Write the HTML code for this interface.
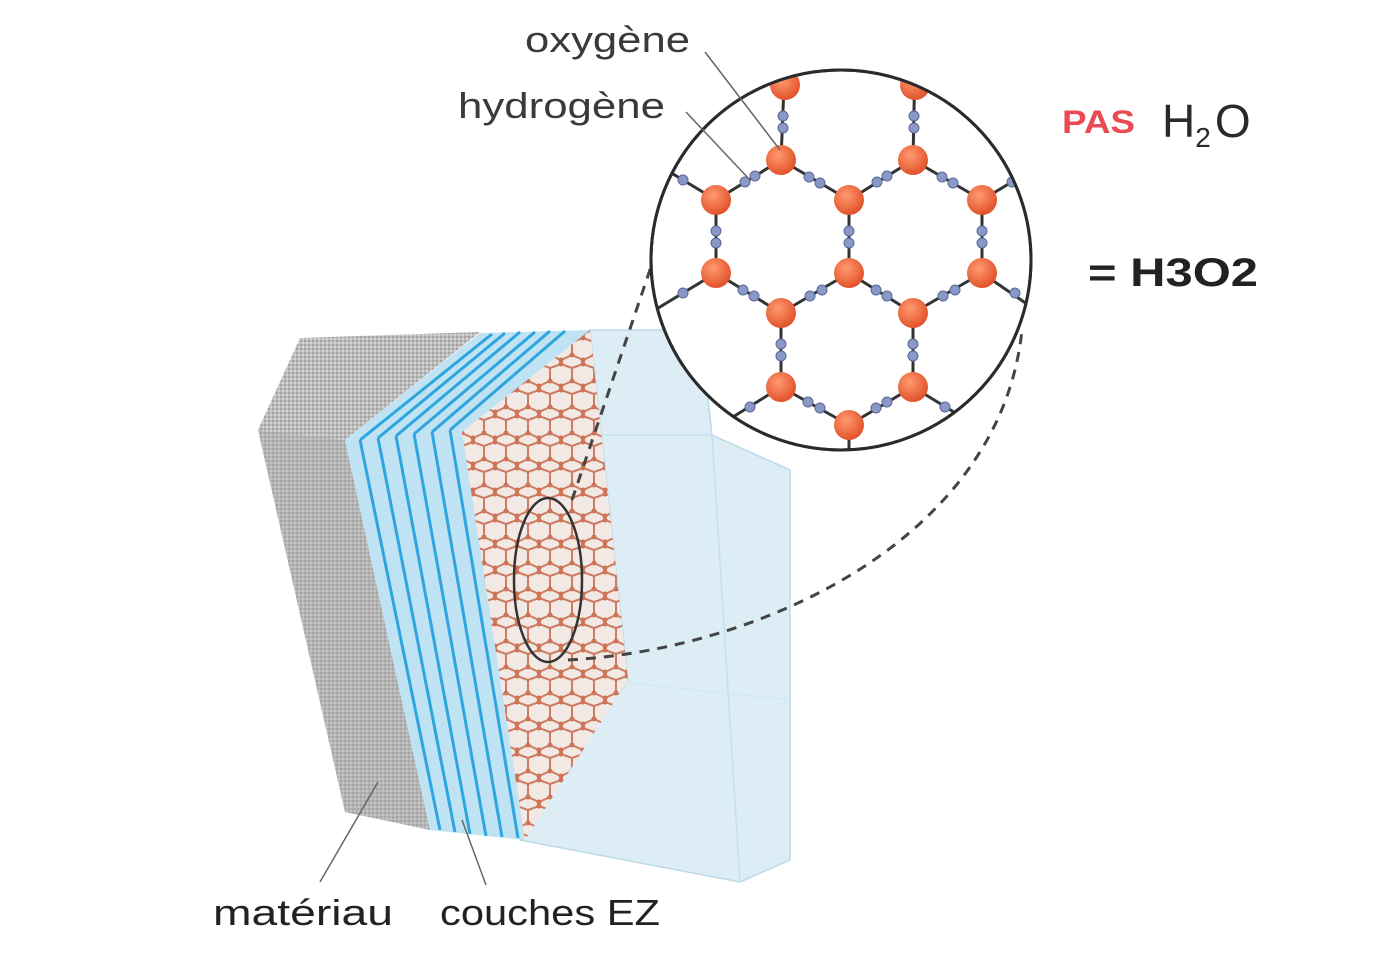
<!DOCTYPE html>
<html><head><meta charset="utf-8"><style>
html,body{margin:0;padding:0;background:#fff;}
svg{display:block;}
text{font-family:"Liberation Sans",sans-serif;}
</style></head><body>
<svg width="1400" height="959" viewBox="0 0 1400 959" xmlns="http://www.w3.org/2000/svg">
<defs>
<pattern id="grey" width="4" height="4" patternUnits="userSpaceOnUse">
<rect width="4" height="4" fill="#bdbdbd"/><rect width="2" height="2" fill="#a3a3a3"/><rect x="2" y="2" width="2" height="2" fill="#d3d3d3"/>
</pattern>
<pattern id="hex" width="22" height="26" patternUnits="userSpaceOnUse">
<rect width="22" height="26" fill="#f1e6e2"/>
<path d="M0 4 L11 0 L22 4 M0 4 L0 17 M22 4 L22 17 M0 17 L11 22 L22 17 M11 22 L11 26" stroke="#c56a4d" stroke-width="2" fill="none"/>
<circle cx="11" cy="0" r="2.5" fill="#c9603e"/><circle cx="0" cy="17" r="2.5" fill="#c9603e"/><circle cx="22" cy="17" r="2.5" fill="#c9603e"/><circle cx="11" cy="22" r="2.5" fill="#c9603e"/><circle cx="11" cy="26" r="2.5" fill="#c9603e"/>
</pattern>
<radialGradient id="og" cx="40%" cy="35%" r="65%"><stop offset="0" stop-color="#ff9a70"/><stop offset="1" stop-color="#e2522a"/></radialGradient>
<clipPath id="cc"><circle cx="841" cy="260" r="190"/></clipPath>
</defs>

<polygon points="590,330 700,330 712,435 790,470 790,860 740,882 520,840 628,680" fill="#dcedf6" stroke="#bcd9e8" stroke-width="1.5"/>
<polyline points="590,330 600,435 712,435" fill="none" stroke="#c8e0ec" stroke-width="1.5"/>
<line x1="712" y1="435" x2="740" y2="882" stroke="#c8e0ec" stroke-width="1.5"/>
<line x1="600" y1="680" x2="790" y2="700" stroke="#d0e6f0" stroke-width="1"/>

<polygon points="258,430 300,338 480,332 345,440 430,830 345,812" fill="url(#grey)"/>
<polygon points="258,430 345,440 430,830 345,812" fill="#a9a9a9" opacity="0.35"/>

<polygon points="345,440 480,333 590,330 628,680 525,840 430,830" fill="#bfe3f3"/>
<g stroke="#2fa5df" stroke-width="3" fill="none">
<path d="M360,440 L492,334 M360,440 L440,830"/>
<path d="M378,438 L505,333 M378,438 L455,832"/>
<path d="M396,436 L520,332 M396,436 L470,834"/>
<path d="M414,434 L535,332 M414,434 L486,836"/>
<path d="M432,432 L550,331 M432,432 L502,837"/>
<path d="M450,430 L565,331 M450,430 L518,838"/>
</g>
<polygon points="462,432 590,330 628,680 525,840" fill="url(#hex)"/>
<polygon points="462,432 590,330 628,680 525,840" fill="#ffffff" opacity="0.12"/>

<ellipse cx="548" cy="580" rx="34" ry="82" fill="none" stroke="#333" stroke-width="2.5"/>
<path d="M572,500 L655,255" fill="none" stroke="#444" stroke-width="3" stroke-dasharray="10,8"/>
<path d="M568,660 C760,650 1000,540 1022,330" fill="none" stroke="#444" stroke-width="3" stroke-dasharray="10,8"/>

<circle cx="841" cy="260" r="190" fill="#fff" stroke="#2b2b2b" stroke-width="3"/>
<g clip-path="url(#cc)" stroke="#333" stroke-width="3">
<line x1="785" y1="60" x2="781" y2="160"/><line x1="915" y1="60" x2="913" y2="160"/>
<line x1="781" y1="160" x2="716" y2="200"/><line x1="781" y1="160" x2="849" y2="200"/>
<line x1="913" y1="160" x2="849" y2="200"/><line x1="913" y1="160" x2="982" y2="200"/>
<line x1="716" y1="200" x2="716" y2="273"/><line x1="849" y1="200" x2="849" y2="273"/><line x1="982" y1="200" x2="982" y2="273"/>
<line x1="716" y1="273" x2="781" y2="313"/><line x1="849" y1="273" x2="781" y2="313"/><line x1="849" y1="273" x2="913" y2="313"/><line x1="982" y1="273" x2="913" y2="313"/>
<line x1="781" y1="313" x2="781" y2="387"/><line x1="913" y1="313" x2="913" y2="387"/>
<line x1="781" y1="387" x2="849" y2="425"/><line x1="913" y1="387" x2="849" y2="425"/><line x1="849" y1="425" x2="849" y2="470"/>
<line x1="716" y1="200" x2="650" y2="160"/><line x1="982" y1="200" x2="1040" y2="165"/>
<line x1="716" y1="273" x2="650" y2="313"/><line x1="982" y1="273" x2="1040" y2="313"/>
<line x1="781" y1="387" x2="720" y2="425"/><line x1="913" y1="387" x2="975" y2="425"/>
</g>
<g clip-path="url(#cc)" fill="#8a98c8" stroke="#5a6898" stroke-width="1">
<circle cx="783" cy="116" r="5"/><circle cx="783" cy="128" r="5"/>
<circle cx="914" cy="116" r="5"/><circle cx="914" cy="128" r="5"/>
<circle cx="755" cy="176" r="5"/><circle cx="745" cy="182" r="5"/>
<circle cx="809" cy="177" r="5"/><circle cx="820" cy="183" r="5"/>
<circle cx="887" cy="176" r="5"/><circle cx="877" cy="182" r="5"/>
<circle cx="942" cy="177" r="5"/><circle cx="953" cy="183" r="5"/>
<circle cx="716" cy="231" r="5"/><circle cx="716" cy="243" r="5"/>
<circle cx="849" cy="231" r="5"/><circle cx="849" cy="243" r="5"/>
<circle cx="982" cy="231" r="5"/><circle cx="982" cy="243" r="5"/>
<circle cx="743" cy="290" r="5"/><circle cx="754" cy="296" r="5"/>
<circle cx="822" cy="290" r="5"/><circle cx="810" cy="296" r="5"/>
<circle cx="876" cy="290" r="5"/><circle cx="887" cy="296" r="5"/>
<circle cx="955" cy="290" r="5"/><circle cx="943" cy="296" r="5"/>
<circle cx="781" cy="344" r="5"/><circle cx="781" cy="356" r="5"/>
<circle cx="913" cy="344" r="5"/><circle cx="913" cy="356" r="5"/>
<circle cx="808" cy="402" r="5"/><circle cx="820" cy="408" r="5"/>
<circle cx="887" cy="402" r="5"/><circle cx="876" cy="408" r="5"/>
<circle cx="683" cy="180" r="5"/><circle cx="1012" cy="182" r="5"/>
<circle cx="683" cy="293" r="5"/><circle cx="1015" cy="293" r="5"/>
<circle cx="750" cy="407" r="5"/><circle cx="945" cy="407" r="5"/>
</g>
<g clip-path="url(#cc)" fill="url(#og)">
<circle cx="785" cy="85" r="15"/><circle cx="915" cy="85" r="15"/>
<circle cx="781" cy="160" r="15"/><circle cx="913" cy="160" r="15"/>
<circle cx="716" cy="200" r="15"/><circle cx="849" cy="200" r="15"/><circle cx="982" cy="200" r="15"/>
<circle cx="716" cy="273" r="15"/><circle cx="849" cy="273" r="15"/><circle cx="982" cy="273" r="15"/>
<circle cx="781" cy="313" r="15"/><circle cx="913" cy="313" r="15"/>
<circle cx="781" cy="387" r="15"/><circle cx="913" cy="387" r="15"/>
<circle cx="849" cy="425" r="15"/>
</g>
<circle cx="841" cy="260" r="190" fill="none" stroke="#2b2b2b" stroke-width="3"/>

<g stroke="#666" stroke-width="1.5">
<line x1="705" y1="52" x2="780" y2="150"/>
<line x1="686" y1="112" x2="750" y2="180"/>
<line x1="320" y1="882" x2="378" y2="782"/>
<line x1="486" y1="885" x2="462" y2="820"/>
</g>

<text x="525" y="52" font-size="36" fill="#3a3a3a" textLength="165" lengthAdjust="spacingAndGlyphs">oxygène</text>
<text x="458" y="118" font-size="36" fill="#3a3a3a" textLength="207" lengthAdjust="spacingAndGlyphs">hydrogène</text>
<text x="1062" y="133" font-size="32" font-weight="bold" fill="#ea4b52" textLength="73" lengthAdjust="spacingAndGlyphs">PAS</text>
<text x="1162" y="137" font-size="46" fill="#2a2a2a">H<tspan font-size="28" dy="10">2</tspan><tspan dy="-10" dx="4">O</tspan></text>
<text x="1088" y="286" font-size="40" font-weight="bold" fill="#222" textLength="170" lengthAdjust="spacingAndGlyphs">= H3O2</text>
<text x="213" y="925" font-size="36" fill="#222" textLength="180" lengthAdjust="spacingAndGlyphs">matériau</text>
<text x="440" y="925" font-size="36" fill="#222" textLength="220" lengthAdjust="spacingAndGlyphs">couches EZ</text>
</svg>
</body></html>
